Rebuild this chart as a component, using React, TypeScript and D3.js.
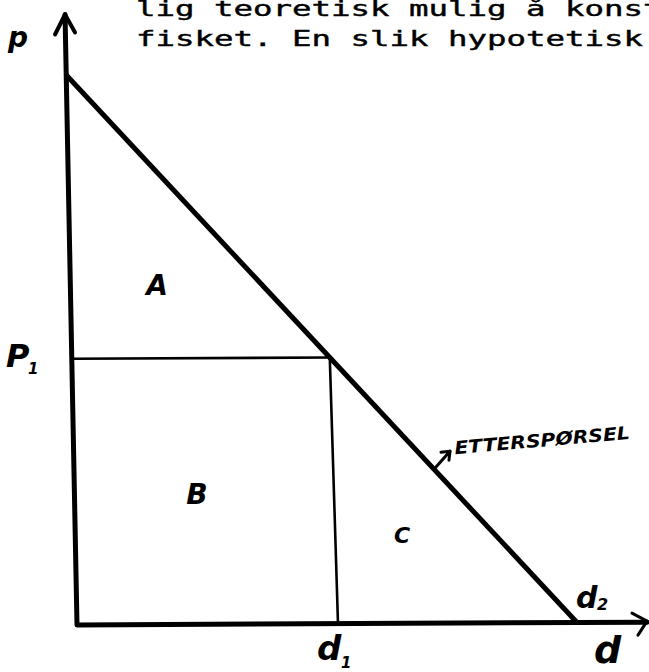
import React from "react";
import * as d3 from "d3";

// ---- data ----
const textLines = ["lig teoretisk mulig å konst", "fisket. En slik hypotetisk"];
const pMax = 100; // demand intercept on price axis
const qMax = 100; // demand intercept on quantity axis (d2)
const q1 = 51.6; // d1
const p1 = pMax * (1 - q1 / qMax); // P1 on demand curve
const demand = [
  { q: 0, p: pMax },
  { q: qMax, p: 0 },
];
const axisExtent = { q: 114, p: 111 };
const areaLabels = [
  { name: "A", q: 16, p: 60 },
  { name: "B", q: 24, p: 22 },
  { name: "C", q: 65, p: 15 },
];

const W = 649;
const H = 672;

export default function App() {
  const xs = d3.scaleLinear().domain([0, 100]).range([77, 577]);
  const ys = d3.scaleLinear().domain([0, 100]).range([625, 75]);
  // slight hand-drawn shear
  const px = (q: number, p: number) => xs(q) - 0.0196 * (625 - ys(p));
  const py = (q: number, p: number) => ys(p) - 0.005 * (xs(q) - 77);
  const line = d3
    .line<{ q: number; p: number }>()
    .x((d) => px(d.q, d.p))
    .y((d) => py(d.q, d.p));

  const yTop = { x: px(0, axisExtent.p), y: py(0, axisExtent.p) };
  const xEnd = { x: px(axisExtent.q, 0), y: py(axisExtent.q, 0) };

  const hand: React.CSSProperties = {
    fontFamily: "'DejaVu Sans', sans-serif",
    fontStyle: "oblique",
    fontWeight: "bold",
  };

  // etterspørsel arrow
  const aq = 72;
  const aBase = { x: px(aq, pMax * (1 - aq / qMax)), y: py(aq, pMax * (1 - aq / qMax)) };
  const aTip = { x: aBase.x + 16, y: aBase.y - 18 };

  return (
    <svg width={W} height={H} style={{ position: "absolute", left: 0, top: 0, background: "#fff" }}>
      <rect width={W} height={H} fill="#fff" />
      {/* typed text */}
      <g
        fontFamily="'DejaVu Sans Mono', 'Liberation Mono', monospace"
        fontSize={21}
        fill="#000"
        stroke="#000"
        strokeWidth={0.4}
      >
        {textLines.map((t, i) => (
          <text
            key={i}
            x={136}
            y={16 + i * 30}
            textLength={t.length * 19.5}
            lengthAdjust="spacingAndGlyphs"
          >
            {t}
          </text>
        ))}
      </g>

      {/* axes */}
      <g stroke="#000" fill="none" strokeLinecap="round" strokeLinejoin="round">
        <path
          d={`M${xEnd.x},${xEnd.y} L${px(0, 0)},${py(0, 0)} L${yTop.x},${yTop.y}`}
          strokeWidth={5}
        />
        <path
          d={`M${yTop.x - 10},${yTop.y + 20} L${yTop.x},${yTop.y} L${yTop.x + 10},${yTop.y + 18}`}
          strokeWidth={4}
        />
        <path
          d={`M${xEnd.x - 15},${xEnd.y - 9} L${xEnd.x},${xEnd.y - 1} L${xEnd.x - 9},${xEnd.y + 13}`}
          strokeWidth={3}
        />
        {/* demand */}
        <path d={line(demand) || ""} strokeWidth={5} strokeLinecap="butt" />
        {/* p1 and d1 guides */}
        <path
          d={line([
            { q: 0, p: p1 },
            { q: q1, p: p1 },
          ]) || ""}
          strokeWidth={2.6}
        />
        <path
          d={line([
            { q: q1, p: p1 },
            { q: q1 + 0.6, p: 0 },
          ]) || ""}
          strokeWidth={2.6}
        />
        {/* etterspørsel arrow */}
        <path d={`M${aBase.x},${aBase.y} L${aTip.x},${aTip.y}`} strokeWidth={3} />
        <path
          d={`M${aTip.x - 9},${aTip.y + 1} L${aTip.x},${aTip.y} L${aTip.x - 1},${aTip.y + 9}`}
          strokeWidth={3}
        />
      </g>

      {/* labels */}
      <g fill="#000" style={hand}>
        <text x={8} y={47} fontSize={28}>p</text>
        <text x={6} y={367} fontSize={32}>P</text>
        <text x={28} y={374} fontSize={15}>1</text>
        {areaLabels.map((l) => (
          <text key={l.name} x={xs(l.q)} y={ys(l.p)} fontSize={l.name === "C" ? 22 : 28} textAnchor="middle">
            {l.name}
          </text>
        ))}
        <text x={px(q1, 0) - 18} y={660} fontSize={34}>d</text>
        <text x={px(q1, 0) + 6} y={668} fontSize={15}>1</text>
        <text x={px(qMax, 0) - 1} y={608} fontSize={30}>d</text>
        <text x={px(qMax, 0) + 20} y={610} fontSize={16}>2</text>
        <text x={594} y={663} fontSize={38}>d</text>
        <text
          x={aTip.x + 5}
          y={aTip.y + 3}
          fontSize={18}
          transform={`rotate(-5 ${aTip.x + 5} ${aTip.y + 3})`}
          textLength={176}
          lengthAdjust="spacingAndGlyphs"
        >
          ETTERSPØRSEL
        </text>
      </g>
    </svg>
  );
}
